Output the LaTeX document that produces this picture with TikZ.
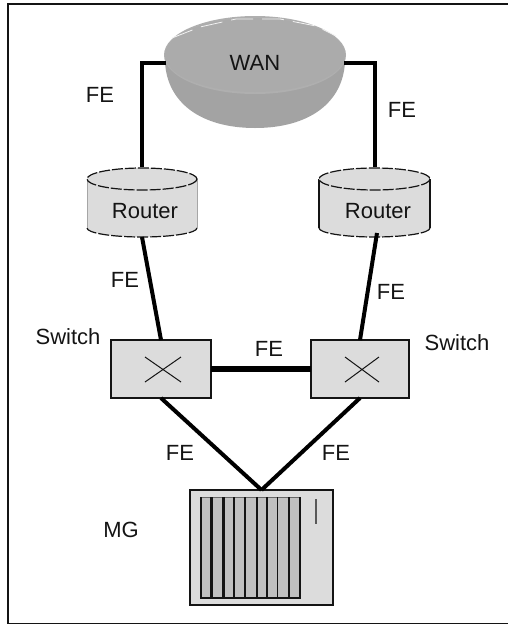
\documentclass[tikz,border=0pt]{standalone}
\usepackage{fontspec}
\setmainfont{Liberation Sans}
\usetikzlibrary{shapes.geometric}
\definecolor{boxgray}{HTML}{DCDCDC}
\definecolor{slotgray}{HTML}{C0C0C0}
\definecolor{diskgray}{HTML}{ABABAB}
\definecolor{diskrim}{HTML}{AFAFAF}
\definecolor{diskside}{HTML}{A3A3A3}
\definecolor{inkc}{HTML}{141414}
\tikzset{
  every node/.style={inner sep=0pt,outer sep=0pt,text=inkc,font=\fontsize{22}{26}\selectfont},
  lbl/.style={},
  link/.style={line width=4pt,black},
  wanlink/.style={line width=4.4pt,black,line cap=butt},
  midlink/.style={line width=6pt,black},
  holder/.style={rectangle,draw=none},
  swbox/.style={rectangle,draw=inkc,line width=1.3pt,fill=boxgray,minimum height=58pt},
  cross/.style={line width=1pt,inkc},
  dashedge/.style={line width=1.2pt,inkc,dash pattern=on 11pt off 2pt},
}
\begin{document}
\begin{tikzpicture}[x=1pt,y=-1pt]
\useasboundingbox (0,0) rectangle (508,625);
% frame
\draw[line width=1.6pt,inkc] (508,4) -- (8,4) -- (8,623.5) -- (508,623.5);

% WAN disk
\fill[diskside] (165,62) .. controls (167,102) and (200,128) .. (255,128) .. controls (310,128) and (343,102) .. (345,62) -- cycle;
\fill[diskrim] (255,55) ellipse [x radius=91, y radius=39];
\fill[diskgray] (255,55) ellipse [x radius=90, y radius=37];
\draw[white!85!diskgray,line width=0.8pt,dash pattern=on 22pt off 9pt] (172,38) -- (200,27) -- (236,19) -- (280,19) -- (316,26) -- (336,36);
\node[ellipse,draw=none,minimum width=178pt,minimum height=60pt] (WAN) at (255,63) {WAN};

% routers
\fill[boxgray] (87,179) -- (87,228) arc [start angle=180,end angle=0,x radius=55,y radius=9] -- (197,179) -- cycle;
\draw[dashedge] (87,228) arc [start angle=180,end angle=0,x radius=55,y radius=9];
\draw[line width=0.6pt,black!35] (87,179) -- (87,228) (197,179) -- (197,228);
\fill[boxgray] (142,179) ellipse [x radius=55, y radius=11];
\draw[dashedge] (142,179) ellipse [x radius=55, y radius=11];
\node[holder,minimum width=110pt,minimum height=70pt] (R1) at (142,202) {};
\node[lbl] at (145,211) {Router};

\fill[boxgray] (319,179) -- (319,228) arc [start angle=180,end angle=0,x radius=55.5,y radius=9] -- (430,179) -- cycle;
\draw[dashedge] (319,228) arc [start angle=180,end angle=0,x radius=55.5,y radius=9];
\draw[line width=1.2pt,inkc] (319,179) -- (319,228) (430,179) -- (430,228);
\fill[boxgray] (374.5,179) ellipse [x radius=55.5, y radius=11];
\draw[dashedge] (374.5,179) ellipse [x radius=55.5, y radius=11];
\node[holder,minimum width=111pt,minimum height=70pt] (R2) at (375,202) {};
\node[lbl] at (378,211) {Router};
\coordinate (R2in) at (377,233);

% switches
\node[swbox,minimum width=100pt] (S1) at (161,369) {};
\node[swbox,minimum width=98pt] (S2) at (360,369) {};
\draw[cross] (145,357) -- (181,382) (145,382) -- (181,357);
\draw[cross] (345,357) -- (379,382) (345,382) -- (379,357);

% MG
\node[rectangle,draw=inkc,line width=1.3pt,fill=boxgray,minimum width=143pt,minimum height=115pt] (MG) at (261.5,547.5) {};
\fill[slotgray] (201,497) rectangle (300,598);
\draw[line width=1pt,black!60] (201,497) -- (300,497);
\draw[line width=1.3pt,inkc] (201,497) -- (201,598) -- (300,598) -- (300,497);
\foreach \px/\pw in {211.7/2.6,223.3/2.6,234.3/2.2,245.3/1.8,256.7/1.8,266.7/1.8,277.7/1.3,289/1.3}{
  \draw[line width=\pw pt,inkc] (\px,497) -- (\px,598);
}
\draw[line width=1.1pt,black!65] (316,499) -- (316,524);

% connectors
\draw[wanlink] (R1.north) |- (WAN.west);
\draw[wanlink] (R2.north) |- (WAN.east);
\draw[link] (R1.south) -- (S1.north);
\draw[link] (R2in) -- (S2.north);
\draw[midlink] (S1.east) -- (S2.west);
\draw[link] (S1.south) -- (MG.north);
\draw[link] (S2.south) -- (MG.north);

% labels
\node[lbl] (f1) at (100,95) {FE};
\node[lbl] (f2) at (402,110) {FE};
\node[lbl] (f3) at (125,280) {FE};
\node[lbl] (f4) at (391,292) {FE};
\node[lbl] (f5) at (269,349) {FE};
\node[lbl] (f6) at (180,453) {FE};
\node[lbl] (f7) at (336,453) {FE};
\node[lbl] (sw1) at (68,337) {Switch};
\node[lbl] (sw2) at (457,343) {Switch};
\node[lbl] (mg) at (121,530) {MG};
\end{tikzpicture}
\end{document}
